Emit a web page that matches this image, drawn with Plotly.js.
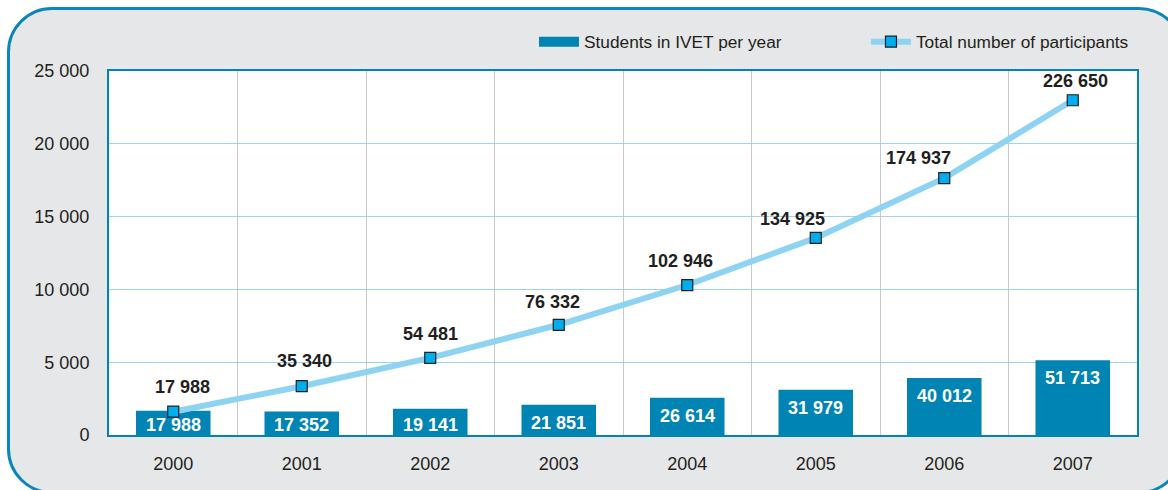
<!DOCTYPE html>
<html><head><meta charset="utf-8">
<script src="https://cdn.plot.ly/plotly-3.0.1.min.js"></script>
<style>
html,body{margin:0;padding:0;background:#fff;overflow:hidden;}
#wrap{position:relative;width:1168px;height:490px;overflow:hidden;}
#frame{position:absolute;left:7px;top:7px;width:1177px;height:487px;box-sizing:border-box;background:#e6e7e8;border:3px solid #0a86ba;border-radius:45px;}
#chart{position:absolute;left:0;top:0;width:1168px;height:490px;}
</style></head><body>
<div id="wrap"><div id="frame"></div><div id="chart"></div></div>
<script>
// ---- data ----
const years = ['2000', '2001', '2002', '2003', '2004', '2005', '2006', '2007'];
// values printed on the chart
const studentsIVET = [17988, 17352, 19141, 21851, 26614, 31979, 40012, 51713];
const totalParticipants = [17988, 35340, 54481, 76332, 102946, 134925, 174937, 226650];
// heights as drawn against the axis
const studentsPlotted = [1670, 1620, 1810, 2080, 2550, 3100, 3910, 5140];
const participantsPlotted = [1600, 3350, 5300, 7570, 10300, 13540, 17640, 22990];
// label nudges (px) for the line labels
const lineLabelDx = [9, 3, 0, -6, -7, -23, -26, 3];
const lineLabelDy = [13, 13, 12, 11, 12, 7, 8, 7];

const FONT = '"Liberation Sans", Arial, sans-serif';
const DARK = '#231f20';
const BLUE = '#0084b4';

function fmt(v) { return String(v).replace(/\B(?=(\d{3})+(?!\d))/g, ' '); }

// legend swatch for the bars (draws nothing in the plot)
const barLegend = {
  type: 'scatter', mode: 'lines', name: 'Students in IVET per year',
  x: [null], y: [null], line: {color: BLUE, width: 17}, hoverinfo: 'skip'
};
const bars = {
  type: 'bar', name: 'Students in IVET per year', showlegend: false,
  x: years, y: studentsPlotted, width: 0.58,
  marker: {color: BLUE, line: {width: 0}},
  hoverinfo: 'skip'
};
const line = {
  type: 'scatter', mode: 'lines+markers', name: 'Total number of participants',
  x: years, y: participantsPlotted,
  line: {color: '#8ed4f2', width: 6},
  marker: {symbol: 'square', size: 11, color: '#00aeef', line: {color: DARK, width: 1.2}},
  hoverinfo: 'skip'
};

const annotations = [];
years.forEach((yr, i) => {
  annotations.push({
    x: i, y: Math.max(studentsPlotted[i], 1900), xref: 'x', yref: 'y',
    yanchor: 'top', xanchor: 'center', yshift: -6, showarrow: false,
    text: '<b>' + fmt(studentsIVET[i]) + '</b>',
    font: {family: FONT, size: 18, color: '#ffffff'}
  });
  annotations.push({
    x: i, y: participantsPlotted[i], xref: 'x', yref: 'y',
    yanchor: 'bottom', xanchor: 'center', yshift: lineLabelDy[i], xshift: lineLabelDx[i], showarrow: false,
    text: '<b>' + fmt(totalParticipants[i]) + '</b>',
    font: {family: FONT, size: 18, color: DARK}
  });
});

const layout = {
  width: 1168, height: 490,
  margin: {l: 109, r: 31, t: 71, b: 55, autoexpand: false},
  paper_bgcolor: 'rgba(0,0,0,0)', plot_bgcolor: '#ffffff',
  separators: '. ',
  font: {family: FONT, size: 18, color: DARK},
  showlegend: true,
  legend: {orientation: 'h', x: 0.4134, xanchor: 'left', y: 1.08, yanchor: 'middle',
           entrywidth: 277, entrywidthmode: 'pixels',
           bgcolor: 'rgba(0,0,0,0)', font: {family: FONT, size: 17.3, color: DARK}, itemwidth: 40},
  xaxis: {type: 'category', range: [-0.5, years.length - 0.5], tickson: 'boundaries',
          showgrid: true, gridcolor: '#c9c9c9', gridwidth: 1,
          showline: true, mirror: true, linecolor: BLUE, linewidth: 2, ticks: '',
          ticklabelstandoff: 11, tickfont: {family: FONT, size: 18, color: DARK}, fixedrange: true},
  yaxis: {range: [0, 25000], dtick: 5000, tickformat: ',d', showgrid: true, gridcolor: '#9ed4ea', gridwidth: 1,
          zeroline: false, showline: true, mirror: true, linecolor: BLUE, linewidth: 2, ticks: '',
          ticklabelstandoff: 14, tickfont: {family: FONT, size: 18, color: DARK}, fixedrange: true},
  annotations: annotations
};

Plotly.newPlot('chart', [barLegend, bars, line], layout, {displayModeBar: false, staticPlot: true});
</script>
</body></html>
